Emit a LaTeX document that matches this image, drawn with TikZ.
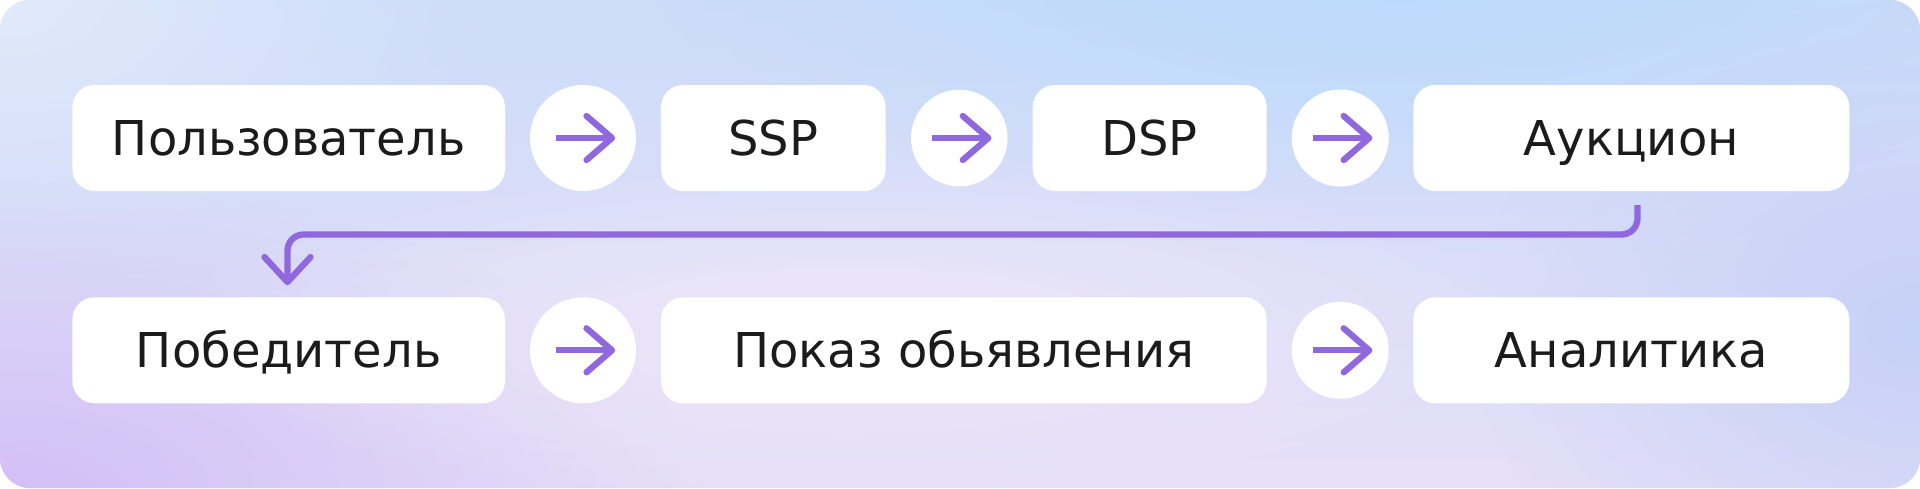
\documentclass[tikz,border=0pt]{standalone}
\usepackage{fontspec}
\newfontfamily\lab{DejaVu Sans}
\usetikzlibrary{fadings,calc}
\definecolor{purp}{HTML}{9068DD}
\definecolor{ink}{HTML}{1B1B1B}
\definecolor{bgbase}{HTML}{E6DFF8}
\definecolor{bgtop}{HTML}{CCDCF9}
\definecolor{bgblue}{HTML}{B9DAFC}
\definecolor{bgpurple}{HTML}{D2BEF7}
\definecolor{bglight}{HTML}{EEE6F9}
\definecolor{bgright}{HTML}{C6D1F7}
\tikzfading[name=blob, inner color=transparent!0, outer color=transparent!100]
\begin{document}
\begin{tikzpicture}[x=1pt,y=-1pt,
  box/.style={fill=white, rounded corners=22pt, minimum height=106pt, inner sep=0pt,
    font=\lab\fontsize{48}{52}\selectfont, text=ink, text height=34.5pt, text depth=0pt},
  dot/.style={circle, fill=white, inner sep=0pt},
  conn/.style={draw=purp, line width=6.3pt},
  head/.style={draw=purp, line width=6.3pt, line cap=round, line join=round}]
\useasboundingbox (0,0) rectangle (1920,488);
% background
\begin{scope}
  \clip[rounded corners=30pt] (0,0) rectangle (1920,488);
  \shade[top color=bgtop, bottom color=bgbase] (0,0) rectangle (1920,488);
  \fill[bgblue, path fading=blob] (1400,-40) ellipse [x radius=750, y radius=260];
  \fill[bgtop!60!white, path fading=blob] (0,0) ellipse [x radius=500, y radius=260];
  \fill[bgpurple, path fading=blob] (0,500) ellipse [x radius=700, y radius=320];
  \fill[bglight, path fading=blob] (850,330) ellipse [x radius=700, y radius=180];
  \fill[bgright, path fading=blob] (1920,330) ellipse [x radius=450, y radius=330];
\end{scope}
% row 1
\node[box, minimum width=432.6pt] (polz) at (288.7,138) {Пользователь};
\node[dot, minimum size=106pt] (c1) at (583,138) {};
\node[box, minimum width=224.7pt] (ssp) at (773.3,138) {SSP};
\node[dot, minimum size=96.6pt] (c2) at (959.3,138) {};
\node[box, minimum width=234pt] (dsp) at (1149.7,138) {DSP};
\node[dot, minimum size=97pt] (c3) at (1340.2,138) {};
\node[box, minimum width=436pt] (auk) at (1631.3,138) {Аукцион};
% row 2
\node[box, minimum width=432.6pt] (pob) at (288.7,350.3) {Победитель};
\node[dot, minimum size=106pt] (c4) at (583,350.3) {};
\node[box, minimum width=605.7pt] (pok) at (963.8,350.3) {Показ обьявления};
\node[dot, minimum size=97pt] (c5) at (1340.2,350.3) {};
\node[box, minimum width=436pt] (ana) at (1631.3,350.3) {Аналитика};
% arrow icons
\foreach \c in {c1,c2,c3,c4,c5}{
  \draw[conn] ([xshift=-27pt]\c.center) -- ([xshift=29pt]\c.center);
  \draw[head] ([xshift=3.5pt,yshift=22pt]\c.center) -- ([xshift=29pt]\c.center)
    -- ([xshift=3.5pt,yshift=-22pt]\c.center);
}
% connector from auction to winner
\coordinate (s) at ([xshift=6.2pt,yshift=-14pt]auk.south);
\coordinate (t) at ([xshift=-1.2pt,yshift=15pt]pob.north);
\draw[conn, rounded corners=16pt] (s) -- ++(0,29.3) -| (t);
\draw[head] ([xshift=-23pt,yshift=25pt]t) -- (t) -- ([xshift=23pt,yshift=25pt]t);
\end{tikzpicture}
\end{document}
